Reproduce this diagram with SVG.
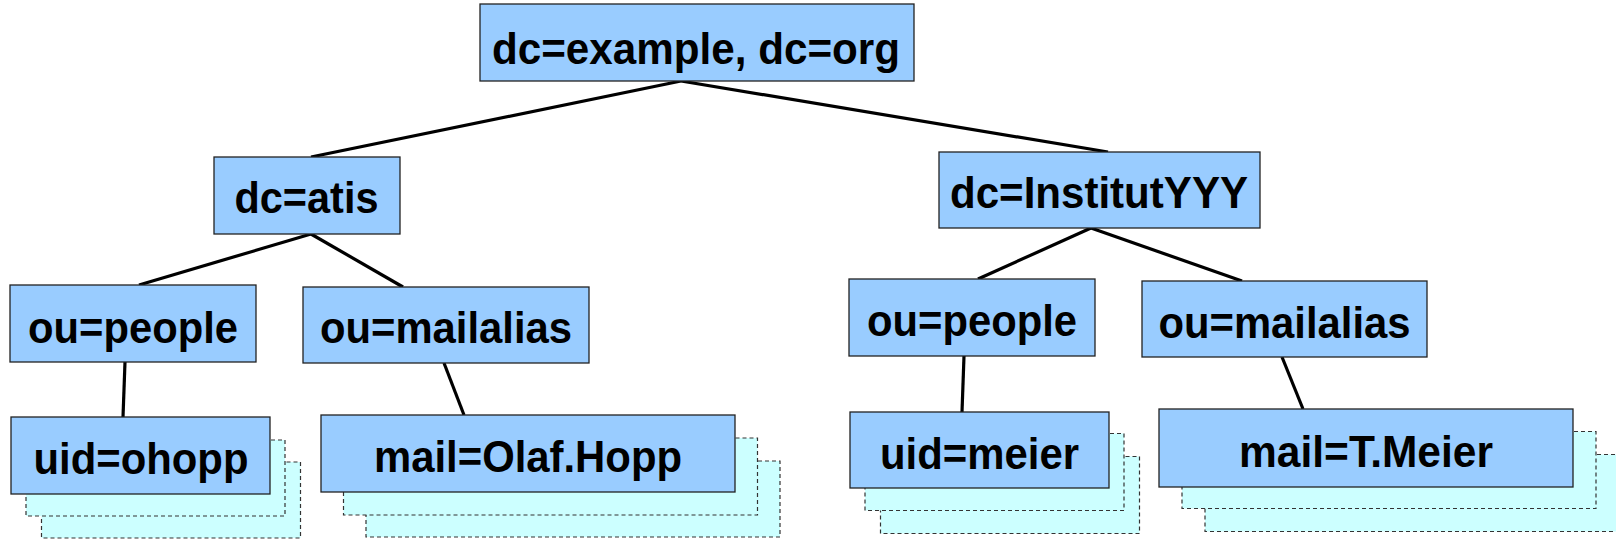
<svg xmlns="http://www.w3.org/2000/svg" width="1616" height="540" viewBox="0 0 1616 540">
  <style>
    .box { fill: #99ccff; stroke: #222; stroke-width: 1.3; }
    .stack { fill: #ccffff; stroke: #333; stroke-width: 1.2; stroke-dasharray: 4 3; }
    .lbl { font-family: "Liberation Sans", Arial, sans-serif; font-weight: bold; font-size: 45px; fill: #000; text-anchor: middle; }
    .edge { stroke: #000; stroke-width: 3.2; fill: none; }
  </style>
  <rect width="1616" height="540" fill="#fff"/>

  <g id="connectors">
    <line class="edge" x1="681" y1="81" x2="311" y2="157"/>
    <line class="edge" x1="681" y1="81" x2="1108" y2="152"/>
    <line class="edge" x1="311" y1="234" x2="139" y2="285"/>
    <line class="edge" x1="311" y1="234" x2="403" y2="287"/>
    <line class="edge" x1="125" y1="362" x2="123" y2="417"/>
    <line class="edge" x1="444" y1="363" x2="464" y2="415"/>
    <line class="edge" x1="1091" y1="228" x2="978" y2="279"/>
    <line class="edge" x1="1091" y1="228" x2="1242" y2="281"/>
    <line class="edge" x1="964" y1="356" x2="962" y2="412"/>
    <line class="edge" x1="1282" y1="357" x2="1303" y2="409"/>
  </g>

  <g id="root">
    <rect class="box" x="480" y="4" width="434" height="77"/>
    <text class="lbl" x="696" y="63.5" textLength="408" lengthAdjust="spacingAndGlyphs">dc=example, dc=org</text>
  </g>

  <g id="dc-atis">
    <rect class="box" x="214" y="157" width="186" height="77"/>
    <text class="lbl" x="306.5" y="212.5" textLength="144" lengthAdjust="spacingAndGlyphs">dc=atis</text>
  </g>

  <g id="dc-institut">
    <rect class="box" x="939" y="152" width="321" height="76"/>
    <text class="lbl" x="1099" y="207.5" textLength="298" lengthAdjust="spacingAndGlyphs">dc=InstitutYYY</text>
  </g>

  <g id="atis-people">
    <rect class="box" x="10" y="285" width="246" height="77"/>
    <text class="lbl" x="133" y="342.5" textLength="210" lengthAdjust="spacingAndGlyphs">ou=people</text>
  </g>

  <g id="atis-mailalias">
    <rect class="box" x="303" y="287" width="286" height="76"/>
    <text class="lbl" x="446" y="343" textLength="252" lengthAdjust="spacingAndGlyphs">ou=mailalias</text>
  </g>

  <g id="institut-people">
    <rect class="box" x="849" y="279" width="246" height="77"/>
    <text class="lbl" x="972" y="335.5" textLength="210" lengthAdjust="spacingAndGlyphs">ou=people</text>
  </g>

  <g id="institut-mailalias">
    <rect class="box" x="1142" y="281" width="285" height="76"/>
    <text class="lbl" x="1284.5" y="337.5" textLength="252" lengthAdjust="spacingAndGlyphs">ou=mailalias</text>
  </g>

  <g id="uid-ohopp">
    <rect class="stack" x="41.5" y="462" width="259" height="76"/>
    <rect class="stack" x="26" y="440" width="259" height="76"/>
    <rect class="box" x="11" y="417" width="259" height="77"/>
    <text class="lbl" x="141" y="474" textLength="215" lengthAdjust="spacingAndGlyphs">uid=ohopp</text>
  </g>

  <g id="mail-olaf">
    <rect class="stack" x="366" y="461" width="414" height="76"/>
    <rect class="stack" x="343.5" y="438" width="414" height="77"/>
    <rect class="box" x="321" y="415" width="414" height="77"/>
    <text class="lbl" x="528" y="472" textLength="308" lengthAdjust="spacingAndGlyphs">mail=Olaf.Hopp</text>
  </g>

  <g id="uid-meier">
    <rect class="stack" x="880.5" y="456.5" width="259" height="77"/>
    <rect class="stack" x="865" y="433.5" width="259" height="77"/>
    <rect class="box" x="850" y="412" width="259" height="76"/>
    <text class="lbl" x="979.5" y="468.5" textLength="199" lengthAdjust="spacingAndGlyphs">uid=meier</text>
  </g>

  <g id="mail-meier">
    <rect class="stack" x="1205" y="454.5" width="414" height="77"/>
    <rect class="stack" x="1182" y="431.5" width="414" height="77"/>
    <rect class="box" x="1159" y="409" width="414" height="78"/>
    <text class="lbl" x="1366" y="466.5" textLength="254" lengthAdjust="spacingAndGlyphs">mail=T.Meier</text>
  </g>
</svg>
